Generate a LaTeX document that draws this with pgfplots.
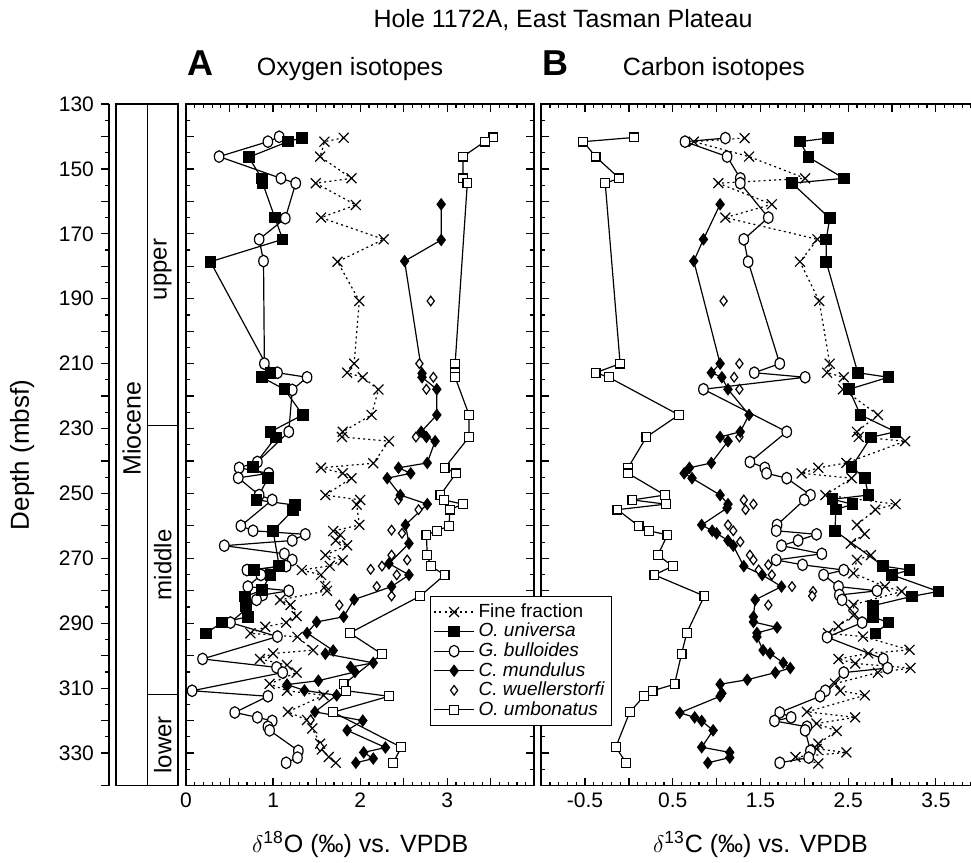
\documentclass[border=0pt]{standalone}
\usepackage{fontspec}
\setmainfont{Liberation Sans}
\usepackage{pgfplots}
\usepackage{pgfplotstable}
\pgfplotsset{compat=1.18}

% depth (mbsf) and isotope value, oxygen (A) and carbon (B)
\pgfplotstableread{
d v
140.4 1.81
141.6 1.59
146.2 1.54
152.9 1.90
154.4 1.49
161.1 1.95
165.0 1.55
171.7 2.27
178.6 1.74
190.7 1.99
210.0 1.93
212.8 1.85
214.2 2.03
218.0 2.21
225.8 2.13
231.0 1.80
232.6 1.79
233.9 2.33
240.7 2.15
242.1 1.55
243.8 1.80
245.3 1.90
250.5 1.60
252.0 2.00
253.5 1.96
259.7 1.99
261.6 1.69
262.8 1.77
264.5 1.72
266.0 1.85
269.0 1.60
270.6 1.80
272.3 1.65
273.6 1.33
275.1 1.55
278.6 1.60
280.0 1.62
282.8 1.08
284.4 1.20
287.8 1.27
289.8 1.15
291.1 0.91
293.1 0.74
294.2 1.28
298.3 1.46
299.3 1.00
301.0 0.85
302.9 1.16
305.2 1.27
308.7 0.96
310.8 1.16
312.2 1.58
317.3 1.17
319.8 1.39
322.4 1.45
327.1 1.54
328.9 1.56
331.2 1.64
333.0 1.72
}\ffA
\pgfplotstableread{
d v
140.5 1.32
141.6 0.74
146.2 1.37
152.9 2.01
154.4 1.02
160.9 1.63
165.0 1.10
171.7 2.15
178.6 1.95
190.7 2.17
210.0 2.29
212.8 2.26
214.2 2.45
217.9 2.44
225.8 2.84
231.0 2.60
232.6 2.62
233.9 3.15
240.6 2.48
242.1 2.16
243.8 1.97
245.3 2.54
250.5 2.24
253.3 3.04
255.0 2.81
259.7 2.60
262.5 2.69
265.4 2.53
269.0 2.76
270.5 2.60
274.6 2.56
278.7 2.92
280.2 3.11
284.3 2.56
287.6 2.56
290.9 2.39
293.1 2.27
294.1 2.67
298.2 3.20
299.3 2.73
301.0 2.39
302.4 2.58
303.8 3.21
305.2 2.84
308.6 2.35
310.8 2.41
312.2 2.69
317.3 2.03
319.0 2.58
320.9 2.14
323.2 2.37
327.1 2.16
328.7 2.14
329.8 2.48
331.2 1.90
333.2 2.16
}\ffB
\pgfplotstableread{
d v
140.4 1.33
141.6 1.17
146.4 0.72
152.9 0.87
154.4 0.88
165.0 1.02
171.7 1.11
178.6 0.28
212.8 0.97
214.2 0.87
217.9 1.13
225.8 1.34
231.0 0.97
232.7 1.03
241.8 0.77
245.3 0.94
252.0 0.81
253.6 1.25
255.1 1.23
261.5 1.00
272.4 1.07
273.6 0.78
275.1 0.97
279.8 0.87
281.8 0.68
284.7 0.69
288.0 0.71
289.8 0.41
293.1 0.23
}\uniA
\pgfplotstableread{
d v
140.5 2.27
141.6 1.95
146.4 2.05
152.9 2.45
154.4 1.86
165.2 2.29
171.7 2.25
178.6 2.25
212.8 2.61
214.2 2.96
217.9 2.51
225.8 2.64
231.0 3.04
232.7 2.76
241.8 2.54
245.3 2.69
250.5 2.73
251.8 2.32
253.3 2.55
255.0 2.36
261.5 2.35
272.4 2.90
273.6 3.20
275.1 3.00
280.2 3.53
281.7 3.23
284.6 2.78
288.0 2.78
289.8 2.96
293.1 2.81
}\uniB
\pgfplotstableread{
d v
140.1 1.07
141.6 0.94
146.2 0.38
152.9 1.09
154.4 1.26
165.2 1.14
171.7 0.84
178.4 0.89
210.0 0.90
212.8 1.05
214.2 1.39
218.1 1.22
231.0 1.18
240.3 0.82
242.1 0.61
243.8 0.95
245.2 0.60
250.5 0.84
252.0 0.99
260.0 0.63
261.5 0.77
262.6 1.37
264.5 1.22
266.1 0.44
268.6 1.13
270.5 1.22
272.4 1.15
273.6 0.70
275.1 0.86
278.7 0.71
280.0 1.18
281.3 0.88
282.8 0.81
289.8 0.51
294.1 1.05
301.0 0.19
303.6 1.04
305.2 1.11
310.8 0.07
312.5 0.94
317.5 0.56
319.0 0.82
320.1 0.99
321.9 0.94
323.0 0.96
329.3 1.29
331.4 1.28
333.0 1.15
}\bulA
\pgfplotstableread{
d v
140.5 1.10
141.6 0.64
146.2 1.12
152.9 1.27
154.4 1.27
165.0 1.59
171.7 1.31
178.6 1.36
210.0 1.72
212.8 1.43
214.2 2.01
217.9 0.85
231.0 1.80
240.3 1.38
242.1 1.55
243.8 1.57
245.3 1.80
250.5 2.07
252.0 2.00
259.7 1.69
261.5 1.68
262.6 2.14
264.5 1.93
266.1 1.74
268.6 2.20
270.5 1.68
272.0 1.98
273.6 2.45
275.1 2.22
278.7 2.39
280.0 2.83
281.3 2.40
282.8 2.43
289.8 2.66
294.3 2.26
301.0 2.90
303.8 2.95
305.2 2.45
310.8 2.24
312.5 2.18
317.5 1.72
319.0 1.85
320.1 1.66
321.9 2.03
323.0 2.01
329.3 2.07
331.4 2.05
333.0 1.72
}\bulB
\pgfplotstableread{
d v
160.9 2.93
171.9 2.93
178.4 2.51
213.0 2.71
214.2 2.71
217.9 2.88
225.8 2.88
231.0 2.70
232.6 2.76
233.9 2.86
240.6 2.77
242.1 2.44
243.8 2.58
245.3 2.31
250.5 2.46
253.3 2.77
259.7 2.52
265.4 2.56
271.6 2.33
275.1 2.56
278.7 2.36
282.7 1.93
288.0 1.81
289.6 1.50
293.0 1.39
298.4 1.69
299.4 1.60
302.2 2.15
303.5 1.89
305.0 1.94
307.7 1.52
308.9 1.16
310.7 1.36
312.2 1.73
317.3 1.48
320.0 2.03
323.0 1.85
328.3 2.29
329.8 2.04
331.7 2.15
333.0 1.95
}\munA
\pgfplotstableread{
d v
160.9 1.04
171.7 0.85
178.4 0.74
210.0 1.04
212.8 0.94
214.2 1.06
217.9 1.13
225.8 1.37
231.0 1.27
232.6 1.04
233.9 1.13
240.6 0.94
242.1 0.69
243.8 0.63
245.3 0.72
250.5 1.04
253.3 1.13
254.5 1.12
259.7 0.83
261.5 0.95
262.3 1.00
264.5 1.13
266.1 1.19
272.4 1.31
275.1 1.52
278.7 1.74
282.8 1.44
288.0 1.42
289.6 1.42
291.3 1.69
293.0 1.46
294.2 1.46
298.3 1.53
299.3 1.61
302.2 1.76
303.8 1.84
305.2 1.67
307.4 1.35
308.8 1.04
311.6 1.06
312.5 1.04
317.6 0.58
319.0 0.75
320.1 0.83
323.0 0.96
328.2 0.83
329.8 1.15
331.4 1.15
333.0 0.90
}\munB
\pgfplotstableread{
d v
190.7 2.81
210.0 2.68
214.2 2.84
217.9 2.76
232.6 2.64
251.9 2.44
255.0 2.67
259.7 2.52
261.3 2.36
262.3 2.48
269.0 2.36
270.5 2.54
272.4 2.25
273.4 2.12
275.1 2.42
278.7 2.19
281.6 2.36
284.4 1.76
319.8 1.43
328.0 1.54
}\wueA
\pgfplotstableread{
d v
190.7 1.08
210.0 1.26
214.2 1.20
217.9 1.26
232.6 1.26
252.0 1.31
253.3 1.42
255.0 1.33
259.7 1.13
261.5 1.19
264.9 1.27
269.0 1.38
270.5 1.42
272.0 1.59
273.6 1.48
275.1 1.63
278.7 1.86
280.2 2.10
281.6 2.09
284.4 1.59
}\wueB
\pgfplotstableread{
d v
140.3 3.53
141.6 3.43
146.2 3.18
152.9 3.18
154.4 3.23
210.0 3.09
212.8 3.09
214.2 3.09
225.8 3.25
232.6 3.25
242.1 2.97
243.8 3.10
250.5 2.92
252.0 2.96
253.3 3.18
255.0 3.03
260.0 3.02
261.5 2.88
262.8 2.76
269.0 2.77
272.4 2.81
275.1 2.97
281.6 2.69
293.0 1.88
299.5 2.25
308.8 1.81
310.8 1.84
312.5 2.33
317.4 1.69
328.2 2.47
333.0 2.38
}\umbA
\pgfplotstableread{
d v
140.3 0.06
141.6 -0.52
146.2 -0.38
152.9 -0.11
154.4 -0.27
210.0 -0.10
212.8 -0.38
214.2 -0.23
225.8 0.57
232.6 0.20
242.1 -0.01
243.8 -0.01
250.5 0.41
252.0 0.04
253.3 0.42
255.0 -0.13
260.0 0.11
261.5 0.23
262.8 0.44
269.0 0.33
272.4 0.50
275.1 0.29
281.6 0.86
293.0 0.66
299.5 0.60
308.8 0.52
310.8 0.27
312.5 0.17
317.4 0.01
328.2 -0.15
333.0 -0.03
}\umbB

\pgfplotsset{
  panel/.style={scale only axis, anchor=north west, height=340.75pt,
    ymin=130, ymax=340, y dir=reverse,
    ytick={130,140,...,340}, yticklabels={}, minor y tick num=1,
    minor x tick num=4, tick align=inside,
    major tick length=4pt, minor tick length=2pt,
    axis line style={line width=0.9pt}, tick style={line width=0.6pt, black},
    ticklabel style={font=\fontsize{10.5}{12}\selectfont},
    xlabel style={font=\fontsize{12.5}{14}\selectfont, yshift=-5pt}},
  ff/.style={black, line width=0.6pt, dash pattern=on 1pt off 1.6pt,
    mark=x, mark size=3.5pt, mark options={solid}},
  uni/.style={black, solid, line width=0.6pt, mark=square*, mark size=2.6pt,
    mark options={fill=black}},
  bul/.style={black, solid, line width=0.6pt, mark=*, mark size=2.9pt,
    mark options={fill=white, xscale=0.82}},
  mun/.style={black, solid, line width=0.6pt, mark=diamond*, mark size=2.7pt,
    mark options={fill=black}},
  wue/.style={black, only marks, mark=diamond*, mark size=2.4pt,
    mark options={fill=white, line width=0.6pt}},
  umb/.style={black, solid, line width=0.6pt, mark=square*, mark size=2.2pt,
    mark options={fill=white}},
}

\begin{document}
\begin{tikzpicture}
\useasboundingbox (0,0) rectangle (485.5pt,-431.5pt);

% depth scale and stratigraphy
\begin{axis}[at={(54.5pt,-52pt)}, anchor=north west, scale only axis,
  width=34.5pt, height=340.75pt, xmin=109, xmax=178,
  ymin=130, ymax=340, y dir=reverse, clip=false,
  axis x line=none, axis y line=left, axis line style={-, line width=0.9pt},
  tick align=outside, major tick length=4pt, minor tick length=2pt,
  tick style={line width=0.6pt, black},
  ytick={130,150,...,330},
  yticklabels={130,150,170,190,210,230,250,270,290,310,330},
  extra y ticks={140,160,...,340}, extra y tick labels={},
  minor y tick num=3,
  ticklabel style={font=\fontsize{10.5}{12}\selectfont}]
\draw[line width=0.6pt] (axis cs:116,130) rectangle (axis cs:147.5,340);
\draw[line width=0.6pt] (axis cs:147.5,130) rectangle (axis cs:178,340);
\draw[line width=0.6pt] (axis cs:147.5,229) -- (axis cs:178,229);
\draw[line width=0.6pt] (axis cs:147.5,312) -- (axis cs:178,312);
\node[rotate=90, font=\fontsize{12.5}{14}\selectfont] at (axis cs:131.75,230) {Miocene};
\node[rotate=90, font=\fontsize{12}{14}\selectfont] at (axis cs:162.75,181) {upper};
\node[rotate=90, font=\fontsize{12}{14}\selectfont] at (axis cs:162.75,272) {middle};
\node[rotate=90, font=\fontsize{12}{14}\selectfont] at (axis cs:162.75,327.5) {lower};
\node[rotate=90, font=\fontsize{13}{15}\selectfont] at (axis description cs:-1.26,0.485) {Depth (mbsf)};
\end{axis}

% A: oxygen isotopes
\begin{axis}[panel, at={(93pt,-52pt)}, width=174.2pt,
  xmin=0, xmax=4, xtick={0,0.5,...,4}, xticklabels={0,,1,,2,,3,,},
  xlabel={$\delta$\textsuperscript{18}O (‰) vs. VPDB}]
\addplot[ff] table[x=v,y=d] {\ffA};
\addplot[umb] table[x=v,y=d] {\umbA};
\addplot[wue] table[x=v,y=d] {\wueA};
\addplot[mun] table[x=v,y=d] {\munA};
\addplot[bul] table[x=v,y=d] {\bulA};
\addplot[uni] table[x=v,y=d] {\uniA};
\end{axis}

% B: carbon isotopes
\begin{axis}[panel, at={(270.6pt,-52pt)}, width=219.25pt,
  xmin=-1, xmax=4, xtick={-1,-0.5,...,4},
  xticklabels={,-0.5,,0.5,,1.5,,2.5,,3.5,},
  xlabel={$\delta$\textsuperscript{13}C (‰) vs. VPDB},
  legend style={at={(rel axis cs:-0.2536,0.278)}, anchor=north west,
    draw=black, line width=0.6pt, fill=white, inner sep=1.5pt,
    font=\fontsize{9.5}{9.5}\selectfont, row sep=-2.6pt, cells={anchor=west}},
  legend image code/.code={\draw[mark repeat=2,mark phase=2,#1]
    plot coordinates {(0cm,0cm) (0.35cm,0cm) (0.7cm,0cm)};}]
\addlegendimage{ff}\addlegendentry{Fine fraction}
\addlegendimage{uni}\addlegendentry{\itshape O. universa}
\addlegendimage{bul}\addlegendentry{\itshape G. bulloides}
\addlegendimage{mun}\addlegendentry{\itshape C. mundulus}
\addlegendimage{wue}\addlegendentry{\itshape C. wuellerstorfi}
\addlegendimage{umb}\addlegendentry{\itshape O. umbonatus}
\addplot[ff, forget plot] table[x=v,y=d] {\ffB};
\addplot[umb, forget plot] table[x=v,y=d] {\umbB};
\addplot[wue, forget plot] table[x=v,y=d] {\wueB};
\addplot[mun, forget plot] table[x=v,y=d] {\munB};
\addplot[bul, forget plot] table[x=v,y=d] {\bulB};
\addplot[uni, forget plot] table[x=v,y=d] {\uniB};
\end{axis}

\node[font=\fontsize{12.5}{14}\selectfont, anchor=base] at (281.5pt,-13.5pt) {Hole 1172A, East Tasman Plateau};
\node[font=\bfseries\fontsize{18}{20}\selectfont, anchor=base west, inner sep=0pt] at (93.5pt,-37.5pt) {A};
\node[font=\fontsize{12.5}{14}\selectfont, anchor=base] at (175pt,-37.5pt) {Oxygen isotopes};
\node[font=\bfseries\fontsize{18}{20}\selectfont, anchor=base west, inner sep=0pt] at (271pt,-37.5pt) {B};
\node[font=\fontsize{12.5}{14}\selectfont, anchor=base] at (357pt,-37.5pt) {Carbon isotopes};
\end{tikzpicture}
\end{document}
